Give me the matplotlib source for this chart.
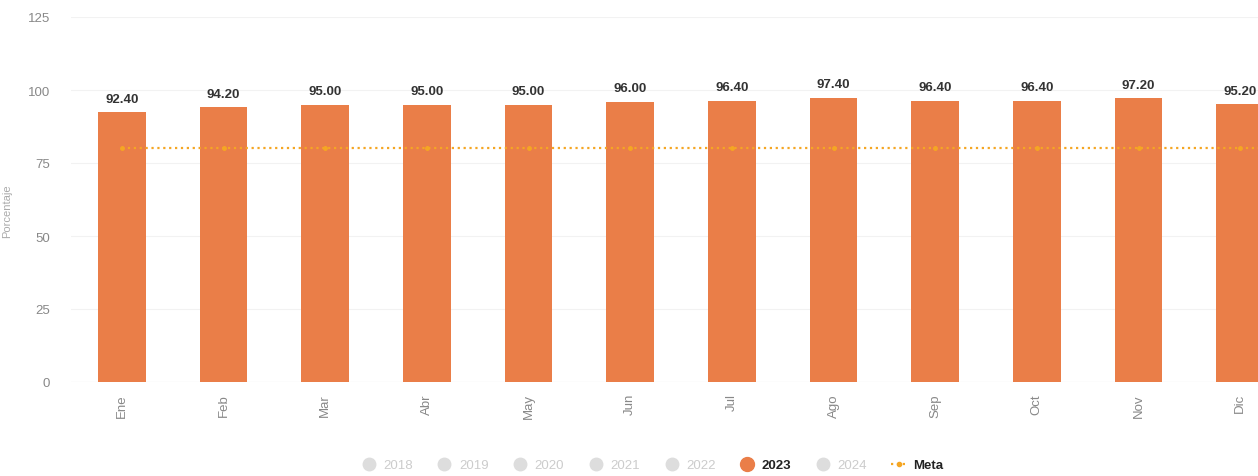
import numpy as np
import matplotlib.pyplot as plt
from matplotlib.lines import Line2D

meses = ['Ene', 'Feb', 'Mar', 'Abr', 'May', 'Jun', 'Jul', 'Ago', 'Sep', 'Oct', 'Nov', 'Dic']
valores_2023 = [92.40, 94.20, 95.00, 95.00, 95.00, 96.00, 96.40, 97.40, 96.40, 96.40, 97.20, 95.20]
meta = [80, 80, 80, 80, 80, 80, 80, 80, 80, 80, 80, 80]
anios = ['2018', '2019', '2020', '2021', '2022', '2023', '2024']

plt.rcParams['font.family'] = ['Liberation Sans', 'DejaVu Sans']

naranja = '#EA7E48'
fig = plt.figure(figsize=(12.58, 4.77), dpi=100)
ax = fig.add_axes([71 / 1258, 94 / 477, (1291 - 71) / 1258, 365 / 477])

x = np.arange(len(meses))
ax.bar(x, valores_2023, width=0.47, color=naranja, zorder=2)
for xi, v in zip(x, valores_2023):
    ax.text(xi, v + 2.5, f'{v:.2f}', ha='center', va='bottom', fontsize=9.5,
            fontweight='bold', color='#333333')

ax.plot(x, meta, color='#F5A623', linestyle=':', linewidth=1.6, marker='o', markersize=2.5, zorder=3)
ax.plot([x[-1], x[-1] + 0.5], [80, 80], color='#F5A623', linestyle=':', linewidth=1.6, zorder=3)

ax.set_xlim(-0.5, len(meses) - 0.5)
ax.set_ylim(0, 125)
ax.set_yticks([0, 25, 50, 75, 100, 125])
ax.set_xticks(x)
ax.set_xticklabels(meses, rotation=90, color='#888888', fontsize=9.5)
ax.tick_params(axis='y', colors='#888888', labelsize=9.5, length=0, pad=15)
ax.tick_params(axis='x', length=0, pad=8)
ax.grid(axis='y', color='#f2f2f2', linewidth=0.8, zorder=0)
for s in ax.spines.values():
    s.set_visible(False)
ax.axhline(0, color='#e6e6e6', linewidth=0.8, zorder=1)
ax.set_ylabel('Porcentaje', color='#aaaaaa', fontsize=8)
ax.yaxis.set_label_coords(-0.048, 0.47)

handles = []
for a in anios:
    if a == '2023':
        handles.append(Line2D([], [], linestyle='none', marker='o', markersize=10, color=naranja))
    else:
        handles.append(Line2D([], [], linestyle='none', marker='o', markersize=9, color='#dddddd'))
handles.append(Line2D([], [], color='#F5A623', linestyle=':', linewidth=1.6, marker='o', markersize=3))
leg = fig.legend(handles, anios + ['Meta'], loc='center', bbox_to_anchor=(652 / 1258, 1 - 466 / 477),
                 ncol=8, frameon=False, fontsize=9.5, handlelength=1.2, columnspacing=1.8, handletextpad=0.5)
for t in leg.get_texts():
    if t.get_text() in ('2023', 'Meta'):
        t.set_color('#222222')
        t.set_fontweight('bold')
    else:
        t.set_color('#cccccc')

fig.savefig('out.png', dpi=100)
